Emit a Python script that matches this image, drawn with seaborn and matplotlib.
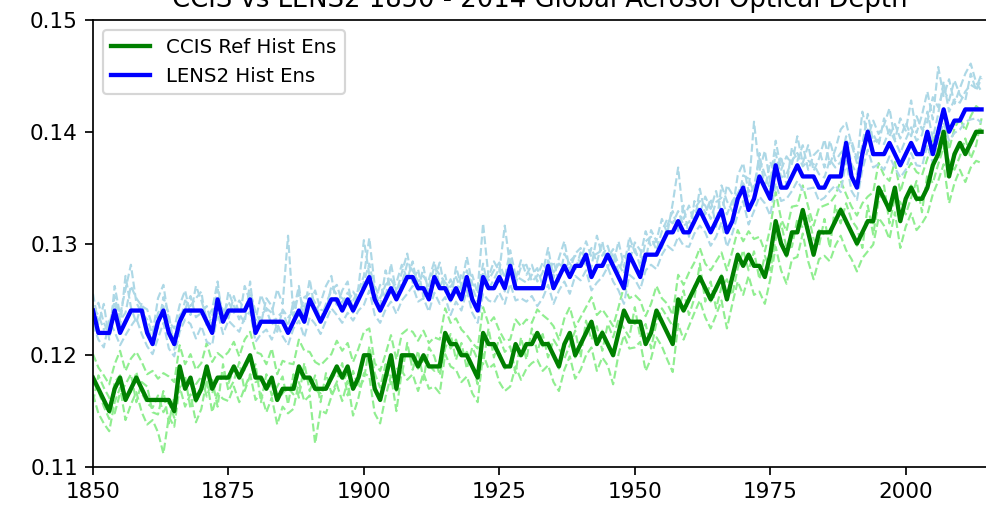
import numpy as np
import matplotlib
matplotlib.use("Agg")
import matplotlib.pyplot as plt
import seaborn as sns

# Global AOD, stored in units of 1e-4 (1240 -> 0.124)
years = np.arange(1850, 2015)

lens2_mean = [
    1240, 1220, 1220, 1220, 1240, 1220, 1230, 1240, 1240, 1240,
    1220, 1210, 1230, 1240, 1220, 1210, 1230, 1240, 1240, 1240,
    1240, 1230, 1220, 1250, 1230, 1240, 1240, 1240, 1240, 1250,
    1220, 1230, 1230, 1230, 1230, 1230, 1220, 1230, 1240, 1230,
    1250, 1240, 1230, 1240, 1250, 1250, 1240, 1250, 1240, 1250,
    1260, 1270, 1250, 1240, 1250, 1260, 1250, 1260, 1270, 1270,
    1260, 1260, 1250, 1270, 1260, 1260, 1250, 1260, 1250, 1270,
    1250, 1240, 1270, 1260, 1260, 1270, 1260, 1280, 1260, 1260,
    1260, 1260, 1260, 1260, 1280, 1260, 1270, 1280, 1270, 1280,
    1280, 1290, 1270, 1280, 1280, 1290, 1280, 1270, 1260, 1290,
    1280, 1270, 1290, 1290, 1290, 1300, 1310, 1310, 1320, 1310,
    1310, 1320, 1330, 1320, 1310, 1320, 1330, 1310, 1320, 1340,
    1350, 1330, 1340, 1360, 1350, 1340, 1370, 1350, 1350, 1360,
    1370, 1360, 1360, 1360, 1350, 1350, 1360, 1360, 1360, 1390,
    1360, 1350, 1380, 1400, 1380, 1380, 1380, 1390, 1380, 1370,
    1380, 1390, 1380, 1380, 1400, 1380, 1400, 1420, 1400, 1410,
    1410, 1420, 1420, 1420, 1420,
]

ccis_mean = [
    1180, 1170, 1160, 1150, 1170, 1180, 1160, 1170, 1180, 1170,
    1160, 1160, 1160, 1160, 1160, 1150, 1190, 1170, 1180, 1160,
    1170, 1190, 1170, 1180, 1180, 1180, 1190, 1180, 1190, 1200,
    1180, 1180, 1170, 1180, 1160, 1170, 1170, 1170, 1190, 1180,
    1180, 1170, 1170, 1170, 1180, 1190, 1180, 1190, 1170, 1180,
    1200, 1200, 1170, 1160, 1180, 1200, 1170, 1200, 1200, 1200,
    1190, 1200, 1190, 1190, 1190, 1220, 1210, 1210, 1200, 1200,
    1190, 1180, 1220, 1210, 1210, 1200, 1190, 1190, 1210, 1200,
    1210, 1210, 1220, 1210, 1210, 1200, 1190, 1210, 1220, 1200,
    1210, 1220, 1230, 1210, 1220, 1210, 1200, 1220, 1240, 1230,
    1230, 1230, 1210, 1220, 1240, 1230, 1220, 1210, 1250, 1240,
    1250, 1260, 1270, 1260, 1250, 1260, 1270, 1250, 1270, 1290,
    1280, 1290, 1280, 1280, 1270, 1290, 1320, 1300, 1290, 1310,
    1310, 1330, 1310, 1290, 1310, 1310, 1310, 1320, 1330, 1320,
    1310, 1300, 1310, 1320, 1320, 1350, 1340, 1330, 1350, 1320,
    1340, 1350, 1340, 1340, 1350, 1370, 1380, 1400, 1360, 1380,
    1390, 1380, 1390, 1400, 1400,
]

# individual ensemble members (dashed)
lens2_m1 = [
    1255, 1228, 1246, 1214, 1262, 1236, 1259, 1281, 1247, 1238,
    1232, 1219, 1251, 1263, 1230, 1224, 1245, 1258, 1236, 1262,
    1249, 1233, 1241, 1266, 1228, 1257, 1244, 1232, 1262, 1248,
    1231, 1254, 1242, 1238, 1259, 1246, 1307, 1235, 1256, 1240,
    1268, 1239, 1247, 1262, 1271, 1243, 1258, 1266, 1238, 1261,
    1303, 1272, 1248, 1263, 1251, 1282, 1256, 1274, 1291, 1265,
    1277, 1252, 1268, 1284, 1261, 1272, 1248, 1279, 1262, 1288,
    1264, 1259, 1318, 1270, 1284, 1275, 1316, 1279, 1268, 1285,
    1272, 1281, 1266, 1274, 1296, 1269, 1287, 1302, 1276, 1291,
    1296, 1284, 1279, 1307, 1289, 1298, 1281, 1302, 1279, 1306,
    1292, 1288, 1311, 1297, 1303, 1322, 1309, 1336, 1368, 1322,
    1334, 1318, 1349, 1326, 1340, 1315, 1352, 1338, 1329, 1361,
    1372, 1346, 1409, 1365, 1383, 1354, 1392, 1366, 1378, 1371,
    1396, 1372, 1388, 1365, 1376, 1393, 1371, 1384, 1402, 1408,
    1389, 1372, 1418, 1395, 1410, 1398, 1406, 1421, 1393, 1412,
    1401, 1428, 1399, 1415, 1436, 1411, 1458, 1432, 1447, 1425,
    1439, 1452, 1461, 1444, 1436,
]

lens2_m2 = [
    1228, 1214, 1207, 1231, 1221, 1209, 1218, 1226, 1233, 1219,
    1208, 1201, 1215, 1229, 1206, 1199, 1221, 1232, 1228, 1215,
    1226, 1212, 1209, 1238, 1219, 1231, 1226, 1221, 1234, 1239,
    1212, 1219, 1223, 1214, 1228, 1217, 1209, 1224, 1231, 1216,
    1234, 1228, 1219, 1231, 1242, 1236, 1229, 1238, 1231, 1240,
    1245, 1258, 1236, 1229, 1241, 1248, 1237, 1249, 1255, 1262,
    1248, 1251, 1239, 1256, 1246, 1252, 1236, 1248, 1240, 1258,
    1238, 1229, 1255, 1249, 1247, 1256, 1246, 1264, 1249, 1251,
    1248, 1253, 1244, 1251, 1263, 1246, 1258, 1266, 1255, 1271,
    1267, 1276, 1258, 1265, 1270, 1279, 1266, 1258, 1246, 1272,
    1268, 1259, 1276, 1281, 1277, 1290, 1298, 1294, 1306, 1298,
    1297, 1309, 1316, 1310, 1298, 1306, 1319, 1297, 1309, 1326,
    1338, 1317, 1329, 1342, 1336, 1325, 1354, 1338, 1340, 1347,
    1356, 1348, 1349, 1350, 1338, 1341, 1347, 1352, 1346, 1374,
    1347, 1339, 1366, 1384, 1368, 1371, 1366, 1378, 1368, 1359,
    1366, 1381, 1370, 1369, 1388, 1372, 1391, 1408, 1392, 1399,
    1402, 1409, 1411, 1412, 1408,
]

lens2_m3 = [
    1242, 1236, 1223, 1227, 1248, 1225, 1271, 1243, 1229, 1247,
    1225, 1214, 1238, 1244, 1219, 1216, 1236, 1241, 1253, 1234,
    1238, 1244, 1226, 1247, 1241, 1233, 1253, 1237, 1229, 1266,
    1224, 1236, 1241, 1227, 1234, 1239, 1226, 1248, 1235, 1252,
    1255, 1247, 1232, 1246, 1258, 1263, 1247, 1256, 1249, 1258,
    1271, 1305, 1262, 1251, 1263, 1268, 1259, 1264, 1282, 1276,
    1266, 1271, 1262, 1279, 1272, 1265, 1261, 1270, 1258, 1276,
    1261, 1248, 1274, 1267, 1276, 1283, 1269, 1294, 1271, 1268,
    1265, 1272, 1278, 1262, 1285, 1274, 1282, 1277, 1284, 1289,
    1283, 1302, 1288, 1291, 1294, 1287, 1295, 1281, 1273, 1298,
    1296, 1279, 1302, 1306, 1294, 1311, 1322, 1318, 1329, 1316,
    1319, 1331, 1338, 1334, 1322, 1337, 1341, 1326, 1338, 1345,
    1354, 1342, 1351, 1376, 1362, 1348, 1381, 1359, 1362, 1374,
    1381, 1369, 1374, 1371, 1362, 1359, 1375, 1368, 1373, 1396,
    1371, 1362, 1389, 1416, 1391, 1393, 1389, 1402, 1392, 1381,
    1393, 1404, 1392, 1397, 1418, 1394, 1416, 1445, 1418, 1429,
    1426, 1436, 1442, 1439, 1452,
]

lens2_m4 = [
    1236, 1247, 1229, 1219, 1253, 1231, 1238, 1262, 1251, 1244,
    1241, 1226, 1224, 1252, 1237, 1205, 1228, 1249, 1244, 1251,
    1257, 1225, 1235, 1259, 1236, 1248, 1238, 1249, 1241, 1257,
    1239, 1228, 1251, 1244, 1221, 1241, 1234, 1239, 1262, 1229,
    1246, 1258, 1241, 1239, 1262, 1254, 1251, 1247, 1257, 1249,
    1266, 1282, 1258, 1244, 1276, 1259, 1265, 1281, 1268, 1284,
    1258, 1279, 1254, 1268, 1283, 1257, 1268, 1254, 1273, 1267,
    1272, 1255, 1282, 1259, 1268, 1278, 1257, 1286, 1264, 1279,
    1281, 1266, 1271, 1283, 1274, 1284, 1266, 1291, 1282, 1276,
    1292, 1279, 1296, 1283, 1302, 1278, 1292, 1274, 1289, 1284,
    1301, 1294, 1284, 1312, 1302, 1296, 1316, 1329, 1311, 1334,
    1306, 1338, 1327, 1342, 1331, 1347, 1326, 1352, 1344, 1336,
    1361, 1358, 1346, 1381, 1349, 1373, 1362, 1378, 1352, 1386,
    1374, 1388, 1366, 1379, 1384, 1368, 1392, 1374, 1381, 1386,
    1392, 1376, 1384, 1402, 1398, 1388, 1412, 1396, 1407, 1394,
    1408, 1396, 1414, 1402, 1409, 1431, 1422, 1438, 1428, 1446,
    1433, 1428, 1452, 1437, 1448,
]

ccis_m1 = [
    1165, 1148, 1139, 1132, 1158, 1171, 1142, 1156, 1167, 1149,
    1138, 1142, 1131, 1112, 1145, 1136, 1172, 1154, 1165, 1140,
    1152, 1178, 1149, 1166, 1161, 1159, 1172, 1158, 1171, 1183,
    1160, 1166, 1149, 1162, 1138, 1154, 1148, 1152, 1176, 1159,
    1164, 1121, 1151, 1148, 1163, 1174, 1159, 1177, 1146, 1162,
    1184, 1181, 1148, 1139, 1163, 1182, 1150, 1186, 1178, 1183,
    1168, 1184, 1170, 1172, 1166, 1201, 1190, 1187, 1176, 1181,
    1166, 1158, 1201, 1188, 1192, 1176, 1168, 1172, 1190, 1178,
    1188, 1193, 1196, 1186, 1191, 1176, 1168, 1187, 1199, 1179,
    1187, 1200, 1207, 1186, 1198, 1191, 1174, 1201, 1218, 1206,
    1207, 1212, 1186, 1197, 1216, 1208, 1196, 1185, 1228, 1214,
    1226, 1238, 1249, 1234, 1224, 1236, 1249, 1224, 1246, 1266,
    1254, 1271, 1254, 1257, 1246, 1268, 1297, 1276, 1264, 1286,
    1288, 1309, 1284, 1268, 1286, 1289, 1284, 1298, 1307, 1294,
    1286, 1275, 1287, 1293, 1299, 1323, 1316, 1304, 1328, 1296,
    1315, 1327, 1312, 1318, 1326, 1344, 1356, 1371, 1336, 1354,
    1366, 1355, 1368, 1374, 1372,
]

ccis_m2 = [
    1201, 1189, 1182, 1174, 1192, 1204, 1186, 1197, 1203, 1194,
    1183, 1186, 1179, 1184, 1181, 1176, 1209, 1192, 1201, 1187,
    1193, 1211, 1194, 1202, 1198, 1203, 1212, 1199, 1214, 1221,
    1203, 1201, 1192, 1206, 1183, 1195, 1193, 1192, 1214, 1204,
    1203, 1194, 1191, 1196, 1201, 1213, 1204, 1211, 1194, 1206,
    1221, 1224, 1193, 1186, 1201, 1218, 1196, 1219, 1223, 1221,
    1213, 1222, 1211, 1216, 1214, 1242, 1229, 1233, 1223, 1218,
    1211, 1206, 1243, 1228, 1234, 1222, 1213, 1214, 1232, 1226,
    1232, 1229, 1241, 1236, 1232, 1226, 1214, 1233, 1243, 1225,
    1234, 1243, 1252, 1236, 1241, 1234, 1226, 1243, 1262, 1251,
    1254, 1249, 1235, 1246, 1262, 1251, 1246, 1236, 1272, 1263,
    1274, 1283, 1296, 1282, 1276, 1284, 1292, 1276, 1293, 1312,
    1302, 1311, 1304, 1306, 1293, 1314, 1346, 1322, 1311, 1333,
    1334, 1352, 1333, 1316, 1332, 1334, 1336, 1343, 1356, 1344,
    1333, 1325, 1336, 1342, 1346, 1372, 1361, 1356, 1373, 1346,
    1363, 1372, 1364, 1361, 1376, 1392, 1402, 1421, 1384, 1403,
    1412, 1401, 1414, 1423, 1419,
]

ccis_m3 = [
    1176, 1168, 1154, 1143, 1176, 1182, 1163, 1167, 1185, 1166,
    1157, 1153, 1164, 1149, 1158, 1144, 1188, 1172, 1176, 1158,
    1168, 1186, 1166, 1178, 1184, 1175, 1188, 1183, 1187, 1198,
    1176, 1178, 1172, 1174, 1159, 1166, 1171, 1165, 1186, 1178,
    1177, 1169, 1166, 1172, 1178, 1186, 1178, 1183, 1172, 1174,
    1197, 1196, 1172, 1161, 1178, 1197, 1168, 1198, 1201, 1196,
    1188, 1196, 1191, 1186, 1194, 1218, 1206, 1214, 1198, 1203,
    1192, 1174, 1218, 1212, 1206, 1203, 1188, 1193, 1208, 1198,
    1207, 1212, 1218, 1208, 1213, 1199, 1188, 1208, 1221, 1198,
    1213, 1218, 1228, 1211, 1222, 1208, 1203, 1218, 1238, 1232,
    1228, 1231, 1212, 1221, 1238, 1232, 1218, 1213, 1248, 1242,
    1248, 1262, 1268, 1261, 1248, 1257, 1272, 1252, 1268, 1287,
    1282, 1288, 1282, 1278, 1272, 1287, 1318, 1302, 1288, 1308,
    1312, 1328, 1312, 1288, 1312, 1308, 1312, 1318, 1332, 1318,
    1312, 1298, 1308, 1322, 1318, 1352, 1338, 1332, 1348, 1322,
    1338, 1352, 1338, 1342, 1348, 1368, 1382, 1398, 1362, 1378,
    1388, 1382, 1391, 1398, 1403,
]

ccis_m4 = [
    1158, 1182, 1171, 1162, 1148, 1166, 1174, 1183, 1158, 1176,
    1172, 1149, 1147, 1168, 1139, 1163, 1168, 1181, 1152, 1174,
    1181, 1163, 1178, 1154, 1192, 1168, 1177, 1194, 1168, 1182,
    1192, 1158, 1183, 1164, 1172, 1181, 1156, 1183, 1162, 1193,
    1168, 1182, 1158, 1184, 1166, 1176, 1193, 1164, 1186, 1171,
    1178, 1208, 1184, 1171, 1192, 1174, 1189, 1182, 1211, 1187,
    1204, 1178, 1207, 1199, 1182, 1206, 1219, 1196, 1211, 1188,
    1207, 1196, 1192, 1224, 1198, 1216, 1203, 1208, 1184, 1216,
    1196, 1224, 1203, 1219, 1198, 1214, 1206, 1197, 1209, 1222,
    1198, 1231, 1214, 1226, 1204, 1228, 1216, 1232, 1224, 1216,
    1243, 1216, 1228, 1206, 1229, 1242, 1234, 1226, 1238, 1258,
    1236, 1251, 1282, 1248, 1266, 1242, 1261, 1268, 1254, 1278,
    1294, 1276, 1293, 1268, 1289, 1276, 1304, 1318, 1296, 1297,
    1322, 1314, 1326, 1304, 1298, 1322, 1296, 1334, 1318, 1336,
    1321, 1314, 1296, 1334, 1308, 1338, 1352, 1318, 1341, 1337,
    1326, 1341, 1356, 1328, 1362, 1354, 1371, 1386, 1374, 1366,
    1378, 1394, 1376, 1388, 1412,
]

def aod(vals):
    return np.array(vals) / 1e4

fig = plt.figure(figsize=(986 / 155, 512 / 155), dpi=155)
ax = fig.add_axes([0.0943, 0.0879, 0.9067, 0.873])

# ensemble members first, thin dashed
for m in [ccis_m1, ccis_m2, ccis_m3, ccis_m4]:
    sns.lineplot(x=years, y=aod(m), ax=ax, color="lightgreen", linestyle="--", linewidth=1)
for m in [lens2_m1, lens2_m2, lens2_m3, lens2_m4]:
    sns.lineplot(x=years, y=aod(m), ax=ax, color="lightblue", linestyle="--", linewidth=1)

# ensemble means on top
sns.lineplot(x=years, y=aod(ccis_mean), ax=ax, color="green", linewidth=2, label="CCIS Ref Hist Ens")
sns.lineplot(x=years, y=aod(lens2_mean), ax=ax, color="blue", linewidth=2, label="LENS2 Hist Ens")

ax.set_xlim(1850, 2015)
ax.set_ylim(0.11, 0.15)
ax.set_xticks([1850, 1875, 1900, 1925, 1950, 1975, 2000])
ax.set_yticks([0.11, 0.12, 0.13, 0.14, 0.15])
ax.set_xlabel("")
ax.set_ylabel("")
ax.set_title("CCIS vs LENS2 1850 - 2014 Global Aerosol Optical Depth")
ax.legend(loc="upper left", fontsize=9.2)

fig.savefig("out.png", dpi=155)
